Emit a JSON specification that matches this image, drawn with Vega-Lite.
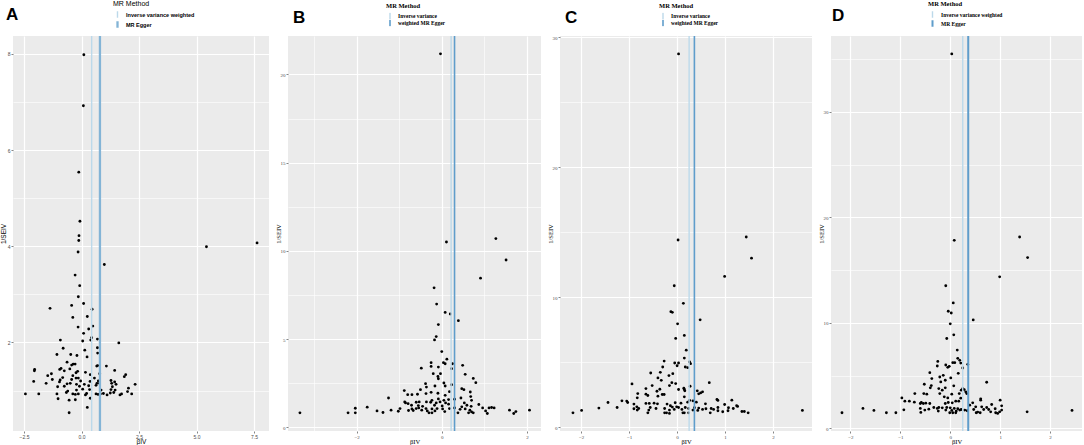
{
  "$schema": "https://vega.github.io/schema/vega-lite/v6.json",
  "padding": 0,
  "datasets": {
    "a": [
      {"x":0.1,"y":7.98},{"x":0.08,"y":6.92},{"x":-0.12,"y":5.54},{"x":-0.07,"y":4.52},{"x":-0.11,"y":4.22},{"x":-0.12,"y":4.12},{"x":-0.15,"y":3.88},{"x":-0.28,"y":3.4},{"x":-0.08,"y":3.18},{"x":-0.14,"y":2.95},{"x":-1.37,"y":2.71},{"x":-0.43,"y":2.77},{"x":0.09,"y":2.81},{"x":0.46,"y":2.69},{"x":-0.38,"y":2.52},{"x":0.25,"y":2.54},{"x":-0.15,"y":2.32},{"x":0.49,"y":2.34},{"x":0.31,"y":2.28},{"x":0.09,"y":2.19},{"x":0.44,"y":2.1},{"x":0.4,"y":2.05},{"x":0.69,"y":2.07},{"x":0.05,"y":2.03},{"x":0.99,"y":3.62},{"x":5.43,"y":3.99},{"x":7.63,"y":4.07},{"x":-0.92,"y":2.05},{"x":1.62,"y":1.99},{"x":-0.8,"y":1.88},{"x":0.69,"y":1.89},{"x":0.14,"y":1.84},{"x":0.7,"y":1.78},{"x":-1.07,"y":1.75},{"x":-0.47,"y":1.75},{"x":-0.2,"y":1.73},{"x":0.24,"y":1.7},{"x":-0.63,"y":1.59},{"x":-0.36,"y":1.55},{"x":-0.28,"y":1.55},{"x":-0.43,"y":1.53},{"x":0.7,"y":1.52},{"x":1.08,"y":1.51},{"x":0.66,"y":1.51},{"x":-0.89,"y":1.46},{"x":-0.51,"y":1.45},{"x":-2.04,"y":1.44},{"x":-2.05,"y":1.41},{"x":1.44,"y":1.42},{"x":-0.95,"y":1.44},{"x":-0.75,"y":1.41},{"x":-0.24,"y":1.37},{"x":-0.17,"y":1.4},{"x":-1.31,"y":1.35},{"x":0.17,"y":1.38},{"x":0.38,"y":1.33},{"x":0.79,"y":1.35},{"x":1.92,"y":1.33},{"x":-1.47,"y":1.31},{"x":-0.38,"y":1.31},{"x":1.86,"y":1.29},{"x":-0.82,"y":1.27},{"x":-0.24,"y":1.26},{"x":-0.14,"y":1.26},{"x":0.56,"y":1.26},{"x":-1.27,"y":1.23},{"x":-0.93,"y":1.22},{"x":-0.43,"y":1.23},{"x":-0.04,"y":1.2},{"x":0.37,"y":1.19},{"x":0.73,"y":1.2},{"x":1.28,"y":1.21},{"x":1.44,"y":1.18},{"x":-2.08,"y":1.19},{"x":-1.54,"y":1.15},{"x":-0.96,"y":1.18},{"x":-0.63,"y":1.14},{"x":-0.49,"y":1.15},{"x":-0.22,"y":1.13},{"x":0.12,"y":1.13},{"x":0.67,"y":1.15},{"x":0.78,"y":1.15},{"x":1.31,"y":1.15},{"x":1.5,"y":1.13},{"x":2.33,"y":1.13},{"x":-1.04,"y":1.08},{"x":-0.75,"y":1.09},{"x":-0.09,"y":1.09},{"x":0.31,"y":1.1},{"x":0.63,"y":1.11},{"x":1.34,"y":1.08},{"x":2.04,"y":1.05},{"x":0.05,"y":1.03},{"x":0.35,"y":1.02},{"x":0.85,"y":1.01},{"x":1.28,"y":1.02},{"x":1.46,"y":1.01},{"x":-0.22,"y":1.01},{"x":-0.6,"y":0.99},{"x":2.0,"y":0.98},{"x":-2.44,"y":0.93},{"x":-1.86,"y":0.93},{"x":-1.07,"y":0.93},{"x":-0.66,"y":0.96},{"x":-0.38,"y":0.93},{"x":-0.27,"y":0.92},{"x":-0.14,"y":0.93},{"x":0.17,"y":0.91},{"x":0.22,"y":0.94},{"x":0.63,"y":0.93},{"x":0.72,"y":0.92},{"x":0.82,"y":0.93},{"x":0.95,"y":0.94},{"x":1.11,"y":0.91},{"x":1.25,"y":0.95},{"x":1.4,"y":0.96},{"x":1.67,"y":0.91},{"x":1.74,"y":0.93},{"x":2.18,"y":0.93},{"x":-1.02,"y":0.83},{"x":-0.54,"y":0.8},{"x":-0.27,"y":0.81},{"x":0.38,"y":0.84},{"x":0.25,"y":0.65},{"x":-0.54,"y":0.54}
    ],
    "b": [
      {"x":-0.03,"y":21.17},{"x":0.11,"y":10.51},{"x":1.27,"y":10.7},{"x":1.51,"y":9.49},{"x":0.91,"y":8.46},{"x":-0.18,"y":7.91},{"x":-0.12,"y":6.99},{"x":0.08,"y":6.52},{"x":0.2,"y":6.43},{"x":0.39,"y":6.05},{"x":-0.08,"y":5.83},{"x":-0.13,"y":5.15},{"x":-0.17,"y":4.96},{"x":0.0,"y":4.3},{"x":0.12,"y":3.87},{"x":0.04,"y":3.67},{"x":0.08,"y":3.61},{"x":0.25,"y":3.61},{"x":-0.25,"y":3.67},{"x":-0.25,"y":3.46},{"x":-0.48,"y":3.36},{"x":-0.08,"y":3.42},{"x":0.23,"y":3.33},{"x":0.49,"y":3.52},{"x":-0.2,"y":3.05},{"x":-0.03,"y":3.05},{"x":0.55,"y":3.01},{"x":-0.09,"y":2.89},{"x":-0.08,"y":2.76},{"x":0.74,"y":2.78},{"x":0.8,"y":2.54},{"x":-0.38,"y":2.48},{"x":0.05,"y":2.52},{"x":-0.36,"y":2.29},{"x":0.08,"y":2.35},{"x":0.23,"y":2.42},{"x":-0.16,"y":2.35},{"x":-0.5,"y":2.14},{"x":-0.88,"y":2.09},{"x":0.47,"y":2.2},{"x":0.52,"y":2.14},{"x":0.67,"y":2.01},{"x":-0.37,"y":1.92},{"x":-0.25,"y":1.99},{"x":-0.09,"y":1.94},{"x":0.18,"y":2.03},{"x":-0.8,"y":1.86},{"x":-0.7,"y":1.86},{"x":-0.57,"y":1.88},{"x":0.08,"y":1.82},{"x":0.68,"y":1.75},{"x":-1.25,"y":1.67},{"x":0.45,"y":1.67},{"x":0.7,"y":1.54},{"x":-0.23,"y":1.54},{"x":-0.08,"y":1.62},{"x":0.05,"y":1.54},{"x":0.16,"y":1.58},{"x":0.3,"y":1.6},{"x":-0.85,"y":1.39},{"x":-0.87,"y":1.45},{"x":-0.79,"y":1.35},{"x":-0.6,"y":1.43},{"x":-0.53,"y":1.45},{"x":-0.36,"y":1.45},{"x":-0.26,"y":1.43},{"x":-0.13,"y":1.39},{"x":-0.04,"y":1.45},{"x":0.09,"y":1.39},{"x":0.53,"y":1.39},{"x":0.16,"y":1.32},{"x":0.59,"y":1.26},{"x":0.87,"y":1.3},{"x":-0.71,"y":1.26},{"x":-0.55,"y":1.24},{"x":-0.45,"y":1.2},{"x":-0.17,"y":1.26},{"x":0.01,"y":1.22},{"x":0.47,"y":1.17},{"x":0.69,"y":1.2},{"x":0.96,"y":1.11},{"x":1.11,"y":1.11},{"x":1.17,"y":1.13},{"x":1.23,"y":1.11},{"x":-1.75,"y":1.15},{"x":-0.98,"y":1.07},{"x":-0.7,"y":1.05},{"x":-0.6,"y":1.07},{"x":-0.54,"y":1.11},{"x":-0.37,"y":1.07},{"x":-0.23,"y":1.05},{"x":-0.11,"y":1.07},{"x":0.02,"y":1.05},{"x":0.18,"y":1.07},{"x":0.3,"y":1.11},{"x":0.43,"y":1.03},{"x":0.55,"y":1.05},{"x":0.66,"y":0.98},{"x":-2.03,"y":1.09},{"x":-1.19,"y":0.98},{"x":-1.52,"y":0.94},{"x":-1.02,"y":0.92},{"x":-0.78,"y":0.96},{"x":-0.67,"y":0.96},{"x":-0.47,"y":0.98},{"x":-0.34,"y":0.94},{"x":-0.16,"y":0.94},{"x":0.07,"y":0.9},{"x":1.03,"y":0.94},{"x":1.59,"y":0.98},{"x":2.06,"y":0.98},{"x":1.74,"y":0.9},{"x":-1.38,"y":0.85},{"x":-2.2,"y":0.83},{"x":-2.03,"y":0.83},{"x":-3.33,"y":0.83},{"x":-0.3,"y":0.83},{"x":-0.23,"y":0.83},{"x":0.38,"y":0.83},{"x":0.63,"y":0.83},{"x":0.74,"y":0.83},{"x":1.07,"y":0.79},{"x":1.69,"y":0.79},{"x":0.7,"y":0.88}
    ],
    "c": [
      {"x":0.03,"y":28.72},{"x":0.02,"y":14.41},{"x":1.44,"y":14.64},{"x":1.55,"y":13.01},{"x":0.99,"y":11.61},{"x":-0.06,"y":10.89},{"x":0.13,"y":9.54},{"x":-0.13,"y":8.9},{"x":-0.1,"y":8.85},{"x":0.48,"y":8.27},{"x":0.01,"y":7.96},{"x":0.15,"y":7.07},{"x":-0.03,"y":6.84},{"x":0.19,"y":5.94},{"x":0.15,"y":5.33},{"x":0.26,"y":5.03},{"x":0.28,"y":4.9},{"x":-0.27,"y":5.1},{"x":-0.05,"y":4.95},{"x":0.03,"y":4.95},{"x":0.0,"y":4.74},{"x":0.17,"y":4.64},{"x":0.22,"y":4.59},{"x":-0.3,"y":4.64},{"x":-0.55,"y":4.18},{"x":-0.35,"y":4.23},{"x":-0.09,"y":4.13},{"x":-0.17,"y":3.98},{"x":-0.4,"y":3.8},{"x":-0.33,"y":3.62},{"x":-0.11,"y":3.44},{"x":-0.03,"y":3.37},{"x":0.67,"y":3.44},{"x":-0.94,"y":3.34},{"x":-0.52,"y":3.21},{"x":-0.16,"y":3.21},{"x":-0.65,"y":2.98},{"x":0.14,"y":3.01},{"x":0.27,"y":3.16},{"x":-0.42,"y":2.78},{"x":-0.36,"y":2.93},{"x":0.03,"y":2.91},{"x":0.15,"y":2.91},{"x":0.16,"y":2.81},{"x":0.42,"y":2.81},{"x":0.53,"y":2.73},{"x":0.49,"y":2.65},{"x":0.45,"y":2.58},{"x":-0.82,"y":2.6},{"x":-0.65,"y":2.55},{"x":-0.61,"y":2.45},{"x":-0.31,"y":2.53},{"x":-0.27,"y":2.53},{"x":0.15,"y":2.35},{"x":-0.4,"y":2.4},{"x":-0.83,"y":2.27},{"x":0.83,"y":2.14},{"x":0.85,"y":2.07},{"x":1.14,"y":2.09},{"x":-1.15,"y":2.04},{"x":-1.05,"y":2.02},{"x":-1.44,"y":1.91},{"x":-1.03,"y":1.91},{"x":0.26,"y":2.07},{"x":0.33,"y":2.04},{"x":0.4,"y":1.94},{"x":0.22,"y":1.94},{"x":-0.9,"y":1.79},{"x":-0.65,"y":1.84},{"x":-0.58,"y":1.84},{"x":-0.48,"y":1.86},{"x":-0.41,"y":1.81},{"x":-0.21,"y":1.79},{"x":-0.04,"y":1.89},{"x":0.08,"y":1.86},{"x":0.99,"y":1.76},{"x":0.59,"y":1.81},{"x":1.24,"y":1.66},{"x":1.26,"y":1.61},{"x":-0.84,"y":1.58},{"x":-0.56,"y":1.53},{"x":-1.25,"y":1.53},{"x":-1.63,"y":1.48},{"x":-0.9,"y":1.43},{"x":-0.8,"y":1.45},{"x":-0.44,"y":1.45},{"x":-0.14,"y":1.66},{"x":-0.1,"y":1.56},{"x":-0.01,"y":1.58},{"x":0.03,"y":1.53},{"x":0.17,"y":1.53},{"x":0.24,"y":1.45},{"x":0.36,"y":1.51},{"x":0.45,"y":1.48},{"x":0.6,"y":1.43},{"x":0.71,"y":1.45},{"x":0.85,"y":1.53},{"x":1.07,"y":1.51},{"x":1.17,"y":1.45},{"x":-0.83,"y":1.33},{"x":-0.59,"y":1.33},{"x":-0.26,"y":1.45},{"x":-0.16,"y":1.33},{"x":-0.06,"y":1.38},{"x":0.1,"y":1.38},{"x":0.33,"y":1.33},{"x":0.43,"y":1.3},{"x":0.53,"y":1.38},{"x":0.76,"y":1.38},{"x":0.85,"y":1.28},{"x":1.06,"y":1.28},{"x":-1.99,"y":1.3},{"x":-2.17,"y":1.12},{"x":2.61,"y":1.3},{"x":1.35,"y":1.22},{"x":1.4,"y":1.22},{"x":1.48,"y":1.12},{"x":0.95,"y":1.2},{"x":0.69,"y":1.12},{"x":-0.61,"y":1.12},{"x":-0.26,"y":1.12},{"x":-0.22,"y":1.12},{"x":-0.16,"y":1.07},{"x":0.12,"y":1.12},{"x":0.15,"y":1.12},{"x":0.24,"y":1.12}
    ],
    "d": [
      {"x":0.03,"y":35.5},{"x":0.08,"y":17.83},{"x":1.39,"y":18.14},{"x":1.55,"y":16.19},{"x":0.99,"y":14.37},{"x":-0.09,"y":13.52},{"x":0.06,"y":11.89},{"x":-0.04,"y":11.1},{"x":0.02,"y":10.94},{"x":0.46,"y":10.28},{"x":0.0,"y":9.91},{"x":0.07,"y":8.87},{"x":-0.07,"y":8.52},{"x":0.14,"y":7.42},{"x":0.15,"y":6.64},{"x":0.19,"y":6.45},{"x":0.21,"y":6.19},{"x":0.05,"y":6.23},{"x":0.09,"y":6.23},{"x":-0.25,"y":6.35},{"x":-0.26,"y":5.91},{"x":-0.09,"y":6.01},{"x":-0.02,"y":5.88},{"x":-0.05,"y":5.79},{"x":0.35,"y":6.07},{"x":0.25,"y":5.72},{"x":-0.41,"y":5.28},{"x":0.16,"y":5.22},{"x":-0.14,"y":5.03},{"x":-0.21,"y":4.87},{"x":0.01,"y":4.78},{"x":-0.37,"y":4.72},{"x":-0.1,"y":4.56},{"x":-0.19,"y":4.4},{"x":0.73,"y":4.37},{"x":-0.52,"y":4.18},{"x":-0.38,"y":4.06},{"x":-0.4,"y":3.84},{"x":0.07,"y":4.03},{"x":-0.1,"y":3.84},{"x":0.25,"y":3.77},{"x":0.28,"y":3.68},{"x":0.22,"y":3.62},{"x":-0.23,"y":3.77},{"x":-0.16,"y":3.62},{"x":0.31,"y":3.46},{"x":-0.71,"y":3.3},{"x":-0.53,"y":3.3},{"x":-0.47,"y":3.24},{"x":-0.21,"y":3.3},{"x":0.03,"y":3.24},{"x":0.18,"y":3.3},{"x":0.33,"y":3.3},{"x":-0.97,"y":2.89},{"x":-0.12,"y":2.99},{"x":-0.05,"y":2.89},{"x":0.21,"y":2.86},{"x":0.61,"y":2.8},{"x":0.61,"y":2.67},{"x":1.0,"y":2.67},{"x":-0.91,"y":2.58},{"x":-0.82,"y":2.58},{"x":-0.72,"y":2.48},{"x":-0.58,"y":2.45},{"x":-0.54,"y":2.36},{"x":-0.49,"y":2.39},{"x":-0.6,"y":2.36},{"x":-0.41,"y":2.36},{"x":-0.1,"y":2.36},{"x":-0.04,"y":2.45},{"x":0.04,"y":2.42},{"x":0.11,"y":2.58},{"x":0.17,"y":2.58},{"x":0.45,"y":2.42},{"x":0.39,"y":2.2},{"x":0.83,"y":2.26},{"x":1.03,"y":2.14},{"x":0.51,"y":2.04},{"x":0.63,"y":2.04},{"x":0.73,"y":1.98},{"x":0.77,"y":1.79},{"x":0.9,"y":1.86},{"x":-1.75,"y":1.89},{"x":-0.93,"y":1.76},{"x":-1.53,"y":1.7},{"x":-0.33,"y":1.98},{"x":-0.26,"y":1.89},{"x":-0.23,"y":1.98},{"x":-0.16,"y":1.95},{"x":-0.07,"y":1.98},{"x":0.0,"y":1.95},{"x":0.08,"y":1.89},{"x":0.15,"y":1.86},{"x":0.22,"y":1.79},{"x":0.29,"y":1.73},{"x":0.34,"y":1.67},{"x":0.47,"y":1.79},{"x":0.67,"y":1.79},{"x":-0.6,"y":1.89},{"x":-0.51,"y":1.73},{"x":-0.43,"y":1.82},{"x":-0.24,"y":1.64},{"x":-0.09,"y":1.73},{"x":0.03,"y":1.7},{"x":0.12,"y":1.64},{"x":0.19,"y":1.73},{"x":0.52,"y":1.48},{"x":0.55,"y":1.54},{"x":0.6,"y":1.48},{"x":0.81,"y":1.57},{"x":0.91,"y":1.48},{"x":0.95,"y":1.42},{"x":0.99,"y":1.57},{"x":1.03,"y":1.73},{"x":-1.28,"y":1.48},{"x":-1.09,"y":1.48},{"x":-2.17,"y":1.48},{"x":-0.59,"y":1.51},{"x":-0.01,"y":1.48},{"x":0.05,"y":1.48},{"x":0.11,"y":1.48},{"x":1.54,"y":1.57},{"x":2.44,"y":1.7}
    ],
    "la": [{"method": "Inverse variance weighted", "beta": 0.44}, {"method": "MR Egger", "beta": 0.8}],
    "lb": [{"method": "Inverse variance weighted", "beta": 0.22}, {"method": "MR Egger", "beta": 0.3}],
    "lc": [{"method": "Inverse variance weighted", "beta": 0.25}, {"method": "MR Egger", "beta": 0.36}],
    "ld": [{"method": "Inverse variance weighted", "beta": 0.25}, {"method": "MR Egger", "beta": 0.36}]
  },
  "hconcat": [
    {
      "width": 256, "height": 395,
      "title": {"text": "A", "dx": -7},
      "layer": [
        {
          "data": {"name": "a"},
          "mark": {"type": "circle", "size": 8, "color": "black", "opacity": 1},
          "encoding": {
            "x": {"field": "x", "type": "quantitative", "scale": {"domain": [-2.98, 8.15], "nice": false, "zero": false},
              "axis": {"title": "βIV", "values": [-2.5, -1.25, 0, 1.25, 2.5, 3.75, 5, 6.25, 7.5],
                "labelExpr": "abs(datum.value/2.5 - round(datum.value/2.5)) < 0.01 ? format(datum.value, '.1f') : ''",
                "gridWidth": {"condition": {"test": "abs(datum.value/2.5 - round(datum.value/2.5)) < 0.01", "value": 1.2}, "value": 0.6},
                "tickOpacity": {"condition": {"test": "abs(datum.value/2.5 - round(datum.value/2.5)) < 0.01", "value": 1}, "value": 0}}},
            "y": {"field": "y", "type": "quantitative", "scale": {"domain": [0.16, 8.37], "nice": false, "zero": false},
              "axis": {"title": "1/SEIV", "values": [1, 2, 3, 4, 5, 6, 7, 8],
                "labelExpr": "datum.value % 2 == 0 ? datum.label : ''",
                "gridWidth": {"condition": {"test": "datum.value % 2 == 0", "value": 1.2}, "value": 0.6},
                "tickOpacity": {"condition": {"test": "datum.value % 2 == 0", "value": 1}, "value": 0}}}
          }
        },
        {
          "data": {"name": "la"},
          "mark": {"type": "rule"},
          "encoding": {
            "x": {"field": "beta", "type": "quantitative"},
            "color": {"field": "method", "type": "nominal",
              "scale": {"domain": ["Inverse variance weighted", "MR Egger"], "range": ["#BCD9EA", "#83B4D6"]},
              "legend": {"title": "MR Method", "orient": "none", "legendX": 100, "legendY": -36, "titleFontSize": 7, "rowPadding": 1, "clipHeight": 9}},
            "strokeWidth": {"field": "method", "type": "nominal", "scale": {"domain": ["Inverse variance weighted", "MR Egger"], "range": [1.4, 2.3]}, "legend": null}
          }
        }
      ]
    },
    {
      "width": 253, "height": 395,
      "title": {"text": "B", "dx": 5},
      "layer": [
        {
          "data": {"name": "b"},
          "mark": {"type": "circle", "size": 8, "color": "black", "opacity": 1},
          "encoding": {
            "x": {"field": "x", "type": "quantitative", "scale": {"domain": [-3.61, 2.33], "nice": false, "zero": false},
              "axis": {"title": "βIV", "values": [-3, -2, -1, 0, 1, 2], "labelFont": "Liberation Serif", "titleFont": "Liberation Serif",
                "labelExpr": "datum.value % 2 == 0 ? datum.label : ''",
                "gridWidth": {"condition": {"test": "datum.value % 2 == 0", "value": 1.2}, "value": 0.6},
                "tickOpacity": {"condition": {"test": "datum.value % 2 == 0", "value": 1}, "value": 0}}},
            "y": {"field": "y", "type": "quantitative", "scale": {"domain": [-0.2, 22.18], "nice": false, "zero": false},
              "axis": {"title": "1/SEIV", "values": [0, 2.5, 5, 7.5, 10, 12.5, 15, 17.5, 20], "labelFont": "Liberation Serif", "titleFont": "Liberation Serif",
                "labelExpr": "datum.value % 5 == 0 ? datum.label : ''",
                "gridWidth": {"condition": {"test": "datum.value % 5 == 0", "value": 1.2}, "value": 0.6},
                "tickOpacity": {"condition": {"test": "datum.value % 5 == 0", "value": 1}, "value": 0}}}
          }
        },
        {
          "data": {"name": "lb"},
          "mark": {"type": "rule"},
          "encoding": {
            "x": {"field": "beta", "type": "quantitative"},
            "color": {"field": "method", "type": "nominal",
              "scale": {"domain": ["Inverse variance weighted", "MR Egger"], "range": ["#BCD9EA", "#5F9DCB"]},
              "legend": {"title": "MR Method", "orient": "none", "legendX": 98, "legendY": -33, "titleFont": "Liberation Serif", "labelFont": "Liberation Serif", "titleFontWeight": "bold", "rowPadding": 0, "clipHeight": 7,
                "labelExpr": "datum.value == 'MR Egger' ? 'weighted MR Egger' : 'Inverse variance'"}},
            "strokeWidth": {"field": "method", "type": "nominal", "scale": {"domain": ["Inverse variance weighted", "MR Egger"], "range": [1.4, 1.6]}, "legend": null}
          }
        }
      ]
    },
    {
      "width": 252, "height": 395,
      "title": {"text": "C", "dx": 5},
      "layer": [
        {
          "data": {"name": "c"},
          "mark": {"type": "circle", "size": 8, "color": "black", "opacity": 1},
          "encoding": {
            "x": {"field": "x", "type": "quantitative", "scale": {"domain": [-2.44, 2.81], "nice": false, "zero": false},
              "axis": {"title": "βIV", "values": [-2, -1.5, -1, -0.5, 0, 0.5, 1, 1.5, 2, 2.5], "labelFont": "Liberation Serif", "titleFont": "Liberation Serif",
                "labelExpr": "datum.value % 1 == 0 ? datum.label : ''",
                "gridWidth": {"condition": {"test": "datum.value % 1 == 0", "value": 1.2}, "value": 0.6},
                "tickOpacity": {"condition": {"test": "datum.value % 1 == 0", "value": 1}, "value": 0}}},
            "y": {"field": "y", "type": "quantitative", "scale": {"domain": [-0.28, 30.1], "nice": false, "zero": false},
              "axis": {"title": "1/SEIV", "values": [0, 5, 10, 15, 20, 25, 30], "labelFont": "Liberation Serif", "titleFont": "Liberation Serif",
                "labelExpr": "datum.value % 10 == 0 ? datum.label : ''",
                "gridWidth": {"condition": {"test": "datum.value % 10 == 0", "value": 1.2}, "value": 0.6},
                "tickOpacity": {"condition": {"test": "datum.value % 10 == 0", "value": 1}, "value": 0}}}
          }
        },
        {
          "data": {"name": "lc"},
          "mark": {"type": "rule"},
          "encoding": {
            "x": {"field": "beta", "type": "quantitative"},
            "color": {"field": "method", "type": "nominal",
              "scale": {"domain": ["Inverse variance weighted", "MR Egger"], "range": ["#BCD9EA", "#5F9DCB"]},
              "legend": {"title": "MR Method", "orient": "none", "legendX": 99, "legendY": -33, "titleFont": "Liberation Serif", "labelFont": "Liberation Serif", "titleFontWeight": "bold", "rowPadding": 0, "clipHeight": 7,
                "labelExpr": "datum.value == 'MR Egger' ? 'weighted MR Egger' : 'Inverse variance'"}},
            "strokeWidth": {"field": "method", "type": "nominal", "scale": {"domain": ["Inverse variance weighted", "MR Egger"], "range": [1.4, 1.6]}, "legend": null}
          }
        }
      ]
    },
    {
      "width": 251, "height": 395,
      "title": {"text": "D", "dx": 1},
      "layer": [
        {
          "data": {"name": "d"},
          "mark": {"type": "circle", "size": 8, "color": "black", "opacity": 1},
          "encoding": {
            "x": {"field": "x", "type": "quantitative", "scale": {"domain": [-2.39, 2.64], "nice": false, "zero": false},
              "axis": {"title": "βIV", "values": [-2, -1.5, -1, -0.5, 0, 0.5, 1, 1.5, 2, 2.5], "labelFont": "Liberation Serif", "titleFont": "Liberation Serif",
                "labelExpr": "datum.value % 1 == 0 ? datum.label : ''",
                "gridWidth": {"condition": {"test": "datum.value % 1 == 0", "value": 1.2}, "value": 0.6},
                "tickOpacity": {"condition": {"test": "datum.value % 1 == 0", "value": 1}, "value": 0}}},
            "y": {"field": "y", "type": "quantitative", "scale": {"domain": [-0.25, 37.2], "nice": false, "zero": false},
              "axis": {"title": "1/SEIV", "values": [0, 5, 10, 15, 20, 25, 30, 35], "labelFont": "Liberation Serif", "titleFont": "Liberation Serif",
                "labelExpr": "datum.value % 10 == 0 ? datum.label : ''",
                "gridWidth": {"condition": {"test": "datum.value % 10 == 0", "value": 1.2}, "value": 0.6},
                "tickOpacity": {"condition": {"test": "datum.value % 10 == 0", "value": 1}, "value": 0}}}
          }
        },
        {
          "data": {"name": "ld"},
          "mark": {"type": "rule"},
          "encoding": {
            "x": {"field": "beta", "type": "quantitative"},
            "color": {"field": "method", "type": "nominal",
              "scale": {"domain": ["Inverse variance weighted", "MR Egger"], "range": ["#BCD9EA", "#5F9DCB"]},
              "legend": {"title": "MR Method", "orient": "none", "legendX": 97, "legendY": -35, "titleFont": "Liberation Serif", "labelFont": "Liberation Serif", "titleFontWeight": "bold", "rowPadding": 1, "clipHeight": 8}},
            "strokeWidth": {"field": "method", "type": "nominal", "scale": {"domain": ["Inverse variance weighted", "MR Egger"], "range": [1.4, 2.0]}, "legend": null}
          }
        }
      ]
    }
  ],
  "resolve": {"scale": {"x": "independent", "y": "independent", "color": "independent", "strokeWidth": "independent"}, "legend": {"color": "independent"}},
  "config": {
    "font": "Liberation Sans",
    "view": {"fill": "#EBEBEB", "stroke": null},
    "concat": {"spacing": 6},
    "axis": {"gridColor": "#FFFFFF", "domain": false, "tickColor": "#333333", "tickSize": 2, "tickWidth": 0.6,
      "labelFontSize": 5, "labelColor": "#4D4D4D", "labelPadding": 1, "titleFontSize": 6.5, "titleFontWeight": "normal",
      "titlePadding": 1, "titleColor": "#000000"},
    "axisY": {"minExtent": 6, "maxExtent": 6},
    "axisX": {"minExtent": 6, "maxExtent": 6},
    "legend": {"titleFontSize": 6.5, "titleFontWeight": "normal", "labelFontSize": 5.5, "labelFontWeight": "bold", "labelColor": "#000000", "titleColor": "#000000",
      "symbolType": "M0,-1L0,1", "symbolSize": 40, "symbolStrokeWidth": 2, "rowPadding": 1, "titlePadding": 3, "labelOffset": 4},
    "title": {"fontSize": 17, "fontWeight": "bold", "anchor": "start", "frame": "group", "offset": 0, "dy": 28, "color": "#000000"}
  }
}
